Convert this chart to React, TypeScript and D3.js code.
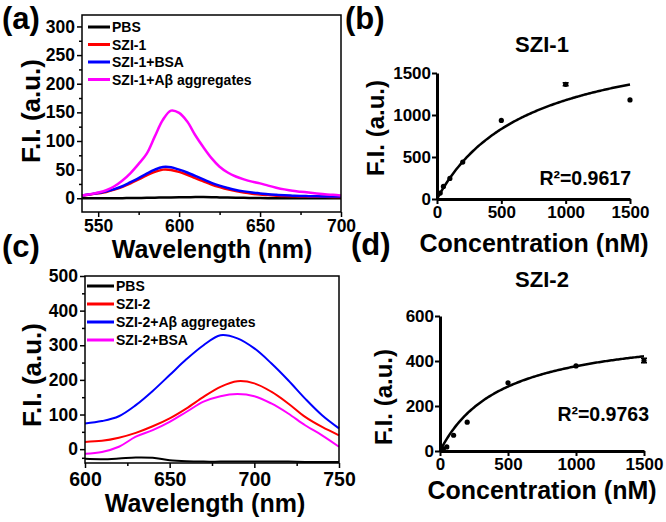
import React, { useEffect, useRef } from 'react';
import * as d3 from 'd3';

const WIDTH = 666;
const HEIGHT = 522;
const FONT = '"Liberation Sans", Arial, Helvetica, sans-serif';

// (a) emission spectra, SZI-1
const WL_A = [540, 545, 550, 555, 560, 565, 570, 575, 580, 585, 590, 595, 600, 605, 610, 615, 620,
    625, 630, 635, 640, 645, 650, 655, 660, 665, 670, 675, 680, 685, 690, 695, 700];
const PBS_A = [0, 0, 0, 0, 0, 0.2, 0.3, 0.5, 0.7, 1, 1.2, 1.5, 1.7, 1.8, 2, 2, 1.8, 1.5, 1.2, 1,
    0.7, 0.5, 0.3, 0.2, 0, 0, 0, 0, 0, 0, 0, 0, 0];
const SZI1 = [5, 6.5, 8.5, 11, 15, 20, 26, 33, 40, 46, 50, 49.5, 46, 41, 35, 29.5, 24, 19.5, 15.5,
    12.5, 10, 8, 6.5, 5.5, 4.5, 4, 3.5, 3, 2.8, 2.6, 2.5, 2.4, 2.3];
const SZI1_BSA = [5, 7, 9, 12, 16, 21, 28, 35, 43, 50, 54.5, 54, 50, 45, 39, 33, 27, 22, 18, 14.5,
    12, 10, 8.5, 7, 6, 5.2, 4.5, 4, 3.7, 3.4, 3.2, 3, 3];
const SZI1_AB = [5, 7, 10, 14, 21, 31, 44, 60, 78, 108, 137, 153, 149, 134, 110, 89, 70, 55, 45,
    38, 33, 29, 26, 22, 18.5, 15.5, 13, 11.5, 10, 8.5, 7, 6, 5];

// (c) emission spectra, SZI-2
const WL_C = [600, 610, 620, 630, 640, 650, 660, 670, 680, 690, 700, 710, 720, 730, 740, 750];
const PBS_C = [-28, -29, -27, -24, -25, -32, -35, -36, -36, -36, -36, -36, -36, -37, -37, -37];
const SZI2 = [21, 24, 33, 47, 66, 89, 118, 151, 180, 196, 190, 166, 132, 93, 64, 40];
const SZI2_AB = [74, 81, 95, 127, 168, 214, 260, 300, 329, 320, 291, 248, 199, 146, 98, 60];
const SZI2_BSA = [-13, -8, 7, 36, 55, 79, 108, 137, 153, 159, 153, 132, 103, 69, 40, 7];

// (b) titration SZI-1
const CONC_B = [25, 50, 100, 200, 500, 1000, 1500];
const FI_B = [70, 150, 245, 440, 935, 1365, 1180];
const ERR_B = [0, 0, 0, 0, 0, 18, 0];
const FIT_B = [2000, 700]; // Bmax, Kd read from the drawn fit

// (d) titration SZI-2
const CONC_D = [25, 50, 100, 200, 500, 1000, 1500];
const FI_D = [10, 18, 70, 128, 303, 378, 402];
const ERR_D = [0, 0, 0, 0, 0, 0, 10];
const FIT_D = [550, 460];

const BLACK = "#000000";
const RED = "#ff0000";
const BLUE = "#0000ff";
const MAGENTA = "#ff00ff";

function drawSpectrum(svg, p) {
    const g = svg.append("g");
    const x = d3.scaleLinear().domain(p.xDomain).range([p.left, p.right]);
    const y = d3.scaleLinear().domain(p.yDomain).range([p.bottom, p.top]);

    // minor ticks
    g.append("g")
        .attr("transform", `translate(0, ${p.bottom})`)
        .call(d3.axisBottom(x).tickValues(p.xMinor).tickSize(3).tickFormat(() => ""))
        .call(a => a.select(".domain").remove());
    g.append("g")
        .attr("transform", `translate(${p.left}, 0)`)
        .call(d3.axisLeft(y).tickValues(p.yMinor).tickSize(3).tickFormat(() => ""))
        .call(a => a.select(".domain").remove());

    const xAxis = g.append("g")
        .attr("transform", `translate(0, ${p.bottom})`)
        .call(d3.axisBottom(x).tickValues(p.xTicks).tickSize(5).tickPadding(p.xPad).tickFormat(d3.format("d")));
    xAxis.select(".domain").remove();
    xAxis.selectAll("text").attr("font-size", p.xFont);

    const yAxis = g.append("g")
        .attr("transform", `translate(${p.left}, 0)`)
        .call(d3.axisLeft(y).tickValues(p.yTicks).tickSize(5).tickPadding(2).tickFormat(d3.format("d")));
    yAxis.select(".domain").remove();
    yAxis.selectAll("text").attr("font-size", 17.5);

    g.selectAll(".tick line").attr("stroke-width", 1.5);
    g.selectAll("text").attr("font-family", FONT).attr("font-weight", "bold").attr("fill", "#000");

    const line = d3.line()
        .x((_, i) => x(p.wl[i]))
        .y(d => y(d))
        .curve(d3.curveCatmullRom);
    p.series.forEach(s => {
        g.append("path")
            .attr("d", line(s.values))
            .attr("fill", "none")
            .attr("stroke", s.color)
            .attr("stroke-width", p.lineWidth);
    });

    g.append("rect")
        .attr("x", p.left).attr("y", p.top)
        .attr("width", p.right - p.left).attr("height", p.bottom - p.top)
        .attr("fill", "none").attr("stroke", "#000").attr("stroke-width", 1.5);

    // legend
    p.legend.forEach((s, i) => {
        const ly = p.legendY[i];
        g.append("line")
            .attr("x1", p.legendX[0]).attr("x2", p.legendX[1])
            .attr("y1", ly).attr("y2", ly)
            .attr("stroke", s.color).attr("stroke-width", 3);
        g.append("text")
            .attr("x", p.legendX[1] + 2).attr("y", ly + 5)
            .attr("font-family", FONT).attr("font-weight", "bold").attr("font-size", 14)
            .text(s.label);
    });

    g.append("text")
        .attr("x", p.xTitle[0]).attr("y", p.xTitle[1])
        .attr("text-anchor", "middle")
        .attr("font-family", FONT).attr("font-weight", "bold").attr("font-size", 25)
        .text("Wavelength (nm)");
    g.append("text")
        .attr("transform", `translate(${p.yTitle[0]}, ${p.yTitle[1]}) rotate(-90)`)
        .attr("text-anchor", "middle")
        .attr("font-family", FONT).attr("font-weight", "bold").attr("font-size", 26)
        .text("F.I. (a.u.)");
}

function drawBinding(svg, p) {
    const g = svg.append("g");
    const x = d3.scaleLinear().domain([0, 1500]).range([p.left, p.right]);
    const y = d3.scaleLinear().domain(p.yDomain).range([p.bottom, p.top]);

    const xAxis = g.append("g")
        .attr("transform", `translate(0, ${p.bottom})`)
        .call(d3.axisBottom(x).tickValues([0, 500, 1000, 1500]).tickSize(5).tickSizeOuter(0)
            .tickPadding(2).tickFormat(d3.format("d")));
    const yAxis = g.append("g")
        .attr("transform", `translate(${p.left}, 0)`)
        .call(d3.axisLeft(y).tickValues(p.yTicks).tickSize(5).tickSizeOuter(0)
            .tickPadding(1).tickFormat(d3.format("d")));
    [xAxis, yAxis].forEach(a => {
        a.select(".domain").attr("stroke-width", 3);
        a.selectAll(".tick line").attr("stroke-width", 2);
        a.selectAll("text").attr("font-size", 17).attr("font-family", FONT)
            .attr("font-weight", "bold").attr("fill", "#000");
    });

    // one-site binding fit curve, Bmax * x / (Kd + x)
    const [bmax, kd] = p.fit;
    const fitLine = d3.line()
        .x(d => x(d))
        .y(d => y(bmax * d / (kd + d)));
    g.append("path")
        .attr("d", fitLine(d3.range(0, 1501, 10)))
        .attr("fill", "none").attr("stroke", "#000").attr("stroke-width", 2.5);

    p.conc.forEach((c, i) => {
        if (p.err[i] > 0) {
            const e = p.err[i];
            g.append("path")
                .attr("d", `M${x(c) - 3},${y(p.fi[i] + e)}H${x(c) + 3}M${x(c)},${y(p.fi[i] + e)}V${y(p.fi[i] - e)}M${x(c) - 3},${y(p.fi[i] - e)}H${x(c) + 3}`)
                .attr("stroke", "#000").attr("stroke-width", 1.5).attr("fill", "none");
        }
        g.append("circle")
            .attr("cx", x(c)).attr("cy", y(p.fi[i])).attr("r", 2.6).attr("fill", "#000");
    });

    g.append("text")
        .attr("x", p.titleX).attr("y", p.titleY)
        .attr("text-anchor", "middle")
        .attr("font-family", FONT).attr("font-weight", "bold").attr("font-size", 22)
        .text(p.title);
    g.append("text")
        .attr("x", p.r2[0]).attr("y", p.r2[1])
        .attr("text-anchor", "end")
        .attr("font-family", FONT).attr("font-weight", "bold").attr("font-size", 19.5)
        .text(`R\u00b2=${p.r2Value}`);

    g.append("text")
        .attr("x", p.xTitle[0]).attr("y", p.xTitle[1])
        .attr("text-anchor", "middle")
        .attr("font-family", FONT).attr("font-weight", "bold").attr("font-size", 25)
        .text("Concentration (nM)");
    g.append("text")
        .attr("transform", `translate(${p.yTitle[0]}, ${p.yTitle[1]}) rotate(-90)`)
        .attr("text-anchor", "middle")
        .attr("font-family", FONT).attr("font-weight", "bold").attr("font-size", 24)
        .text("F.I. (a.u.)");
}

export default function App() {
    const svgRef = useRef(null);

    useEffect(() => {
        if (!svgRef.current) return;
        const svg = d3.select(svgRef.current);

        drawSpectrum(svg, {
            left: 82, right: 341, top: 15, bottom: 212,
            xDomain: [540, 700], yDomain: [-24, 320],
            xTicks: [550, 600, 650, 700], xMinor: [575, 625, 675],
            yTicks: [0, 50, 100, 150, 200, 250, 300], yMinor: [25, 75, 125, 175, 225, 275],
            xFont: 17.5, xPad: 3, lineWidth: 2.5, wl: WL_A,
            series: [
                { values: PBS_A, color: BLACK },
                { values: SZI1, color: RED },
                { values: SZI1_BSA, color: BLUE },
                { values: SZI1_AB, color: MAGENTA },
            ],
            legend: [
                { label: "PBS", color: BLACK },
                { label: "SZI-1", color: RED },
                { label: "SZI-1+BSA", color: BLUE },
                { label: "SZI-1+A\u03b2 aggregates", color: MAGENTA },
            ],
            legendX: [88, 110], legendY: [27, 44.5, 62, 79.5],
            xTitle: [212, 258], yTitle: [40, 111],
        });

        drawSpectrum(svg, {
            left: 85, right: 339, top: 276, bottom: 463,
            xDomain: [600, 750], yDomain: [-40, 500],
            xTicks: [600, 650, 700, 750], xMinor: [625, 675, 725],
            yTicks: [0, 100, 200, 300, 400, 500], yMinor: [-25, 50, 150, 250, 350, 450],
            xFont: 19.5, xPad: 4, lineWidth: 2, wl: WL_C,
            series: [
                { values: PBS_C, color: BLACK },
                { values: SZI2, color: RED },
                { values: SZI2_AB, color: BLUE },
                { values: SZI2_BSA, color: MAGENTA },
            ],
            legend: [
                { label: "PBS", color: BLACK },
                { label: "SZI-2", color: RED },
                { label: "SZI-2+A\u03b2 aggregates", color: BLUE },
                { label: "SZI-2+BSA", color: MAGENTA },
            ],
            legendX: [87, 114], legendY: [286, 304, 322, 340],
            xTitle: [205, 512], yTitle: [41, 375],
        });

        drawBinding(svg, {
            left: 437, right: 630, top: 73, bottom: 199,
            yDomain: [0, 1500], yTicks: [0, 500, 1000, 1500],
            conc: CONC_B, fi: FI_B, err: ERR_B, fit: FIT_B,
            title: "SZI-1", titleX: 542, titleY: 52,
            r2: [631, 185], r2Value: "0.9617",
            xTitle: [534, 252], yTitle: [384, 128],
        });

        drawBinding(svg, {
            left: 440, right: 644, top: 316, bottom: 451,
            yDomain: [0, 600], yTicks: [0, 200, 400, 600],
            conc: CONC_D, fi: FI_D, err: ERR_D, fit: FIT_D,
            title: "SZI-2", titleX: 542, titleY: 287,
            r2: [649, 421], r2Value: "0.9763",
            xTitle: [542, 499], yTitle: [392, 397],
        });

        // panel letters
        [["(a)", 2, 29], ["(b)", 345, 29], ["(c)", 2, 257], ["(d)", 351, 255]].forEach(([t, px, py]) => {
            svg.append("text")
                .attr("x", px).attr("y", py)
                .attr("font-family", FONT).attr("font-weight", "bold").attr("font-size", 31)
                .text(t);
        });

        return () => {
            svg.selectAll("*").remove();
        };
    }, []);

    return (
        <svg ref={svgRef} width={WIDTH} height={HEIGHT}
            style={{ position: "absolute", left: 0, top: 0, background: "#fff" }} />
    );
}
